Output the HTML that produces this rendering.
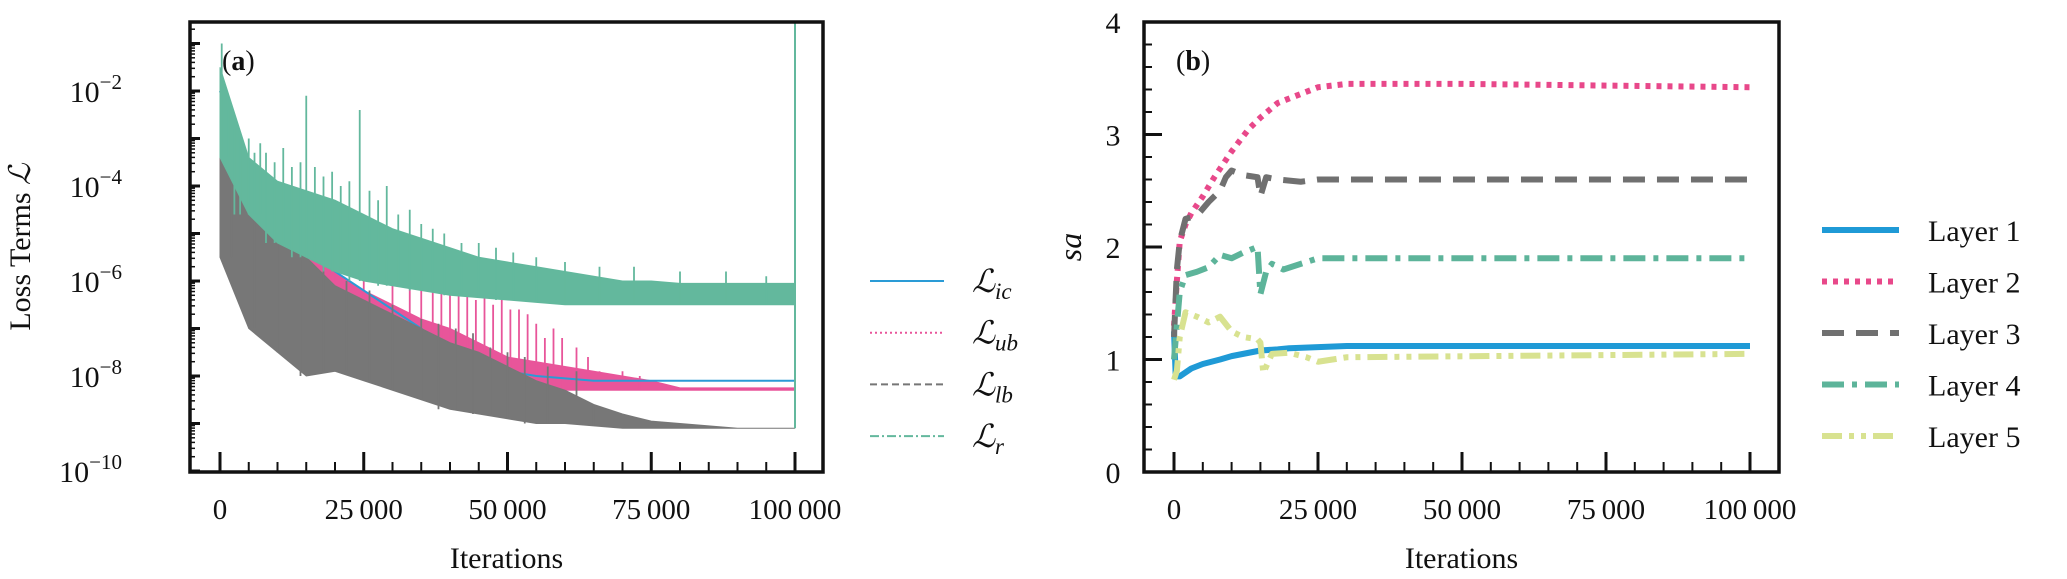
<!DOCTYPE html>
<html><head><meta charset="utf-8"><style>
body{margin:0;background:#fff}
svg{display:block}
text{font-family:"Liberation Serif",serif;fill:#111}
</style></head><body>
<svg id="fig" width="2067" height="579" viewBox="0 0 2067 579" xmlns="http://www.w3.org/2000/svg">
<g id="pa"></g>
<g id="pb"></g>
</svg>
<script>
// ---------- Panel (a) data (log10 of loss), bins every 5000 iterations ----------
const binsA = [0,5000,10000,15000,20000,25000,30000,35000,40000,45000,50000,55000,60000,65000,70000,75000,80000,85000,90000,95000,100000];
const rHi  = [-1.5,-3.4,-3.9,-4.1,-4.3,-4.6,-4.9,-5.1,-5.3,-5.5,-5.6,-5.7,-5.8,-5.9,-6.0,-6.0,-6.05,-6.05,-6.05,-6.05,-6.05];
const rLo  = [-3.4,-4.6,-5.2,-5.5,-5.8,-6.0,-6.1,-6.2,-6.3,-6.35,-6.4,-6.45,-6.5,-6.5,-6.5,-6.5,-6.5,-6.5,-6.5,-6.5,-6.5];
const lbHi = [-3.3,-4.4,-5.0,-5.5,-6.1,-6.4,-6.7,-7.0,-7.3,-7.5,-7.8,-8.1,-8.3,-8.6,-8.8,-8.95,-9.0,-9.05,-9.1,-9.1,-9.1];
const lbLo = [-5.5,-7.0,-7.5,-8.0,-7.9,-8.1,-8.3,-8.5,-8.7,-8.8,-8.9,-9.0,-9.0,-9.05,-9.1,-9.1,-9.1,-9.1,-9.1,-9.1,-9.1];
const ubHi = [-3.0,-4.2,-4.8,-5.3,-5.8,-6.2,-6.5,-6.8,-7.0,-7.3,-7.6,-7.7,-7.8,-7.9,-8.0,-8.1,-8.25,-8.25,-8.25,-8.25,-8.25];
const ubLo = [-4.5,-5.6,-6.2,-6.8,-7.2,-7.5,-7.8,-8.0,-8.2,-8.3,-8.3,-8.3,-8.3,-8.3,-8.3,-8.3,-8.3,-8.3,-8.3,-8.3,-8.3];
const icVal= [-2.0,-4.2,-4.8,-5.3,-5.8,-6.2,-6.6,-7.0,-7.5,-7.8,-7.9,-8.0,-8.05,-8.1,-8.1,-8.1,-8.1,-8.1,-8.1,-8.1,-8.1];
const rSpikeX = [300,1500,2500,3500,5000,6000,7000,8000,9500,11000,12500,14000,15000,16500,18000,19500,21000,22500,24300,26000,27500,29000,31000,33000,35000,37000,39000,42000,45000,48000,51000,55000,60000,66000,72000,80000,88000,95000];
const rSpikeY = [-1.0,-2.4,-2.8,-3.0,-3.0,-3.3,-3.1,-3.3,-3.5,-3.2,-3.6,-3.5,-2.1,-3.6,-3.8,-3.7,-4.0,-3.9,-2.4,-4.1,-4.3,-4.0,-4.6,-4.5,-4.8,-4.9,-5.0,-5.2,-5.2,-5.3,-5.4,-5.5,-5.6,-5.7,-5.7,-5.8,-5.8,-5.9];
const ubSpikeX = [1500,3000,6000,9000,12000,20000,25000,30000,33000,35000,37000,38500,40000,41500,43000,44500,46000,47500,49000,50500,52000,53500,55000,56500,58000,59500,62000,64000,66000,70000,73000];
const ubSpikeY = [-3.0,-3.5,-4.0,-3.8,-4.2,-5.0,-5.5,-5.4,-6.0,-5.9,-6.2,-6.0,-6.3,-6.1,-6.2,-6.4,-6.2,-6.5,-6.3,-6.6,-6.6,-6.7,-6.9,-7.2,-7.0,-7.2,-7.4,-7.6,-7.9,-7.9,-8.0];
const lbSpikeX = [2000,6000,10000,14000,18000,22000,26000,30000,35000,38000,41000,44000,47000,50000,53000,57000,62000,65000];
const lbSpikeY = [-3.8,-4.5,-4.7,-5.0,-5.6,-6.0,-6.2,-6.5,-6.8,-6.9,-7.0,-7.1,-7.4,-7.5,-7.6,-7.8,-7.9,-8.6];
const yTicksA = [-2,-4,-6,-8,-10];
const xTicks = [0,25000,50000,75000,100000];
const xTickLabels = ["0","25\u2009000","50\u2009000","75\u2009000","100\u2009000"];

// ---------- Panel (b) data ----------
const l1x=[0,300,1000,3000,5000,8000,10000,13000,15000,18000,20000,25000,30000,50000,100000];
const l1y=[1.25,0.85,0.85,0.92,0.96,1.0,1.03,1.06,1.08,1.09,1.1,1.11,1.12,1.12,1.12];
const l2x=[0,500,1000,2000,3000,5000,7000,10000,13000,15000,18000,20000,23000,25000,30000,50000,100000];
const l2y=[1.3,1.7,2.05,2.2,2.3,2.45,2.62,2.85,3.05,3.15,3.28,3.32,3.38,3.42,3.45,3.45,3.42];
const l3x=[0,500,1000,2000,4000,6000,8000,9000,10000,12000,14500,15000,16000,18000,22000,25000,100000];
const l3y=[1.2,1.8,2.05,2.25,2.28,2.4,2.5,2.62,2.68,2.64,2.62,2.45,2.62,2.6,2.58,2.6,2.6];
const l4x=[0,500,1000,2000,4000,6000,8000,10000,12000,14500,15000,16000,17000,19000,22000,25000,100000];
const l4y=[1.0,1.3,1.6,1.75,1.78,1.82,1.93,1.9,1.95,2.0,1.58,1.78,1.85,1.8,1.85,1.9,1.9];
const l5x=[0,500,1000,2000,4000,6000,8000,10000,12000,14500,15000,15500,17000,20000,23000,25000,30000,100000];
const l5y=[0.82,0.9,1.2,1.42,1.38,1.33,1.38,1.25,1.2,1.18,1.15,0.88,1.05,1.06,1.02,0.98,1.02,1.05];
const yTicksB=[0,1,2,3,4];
const layerNames=["Layer 1","Layer 2","Layer 3","Layer 4","Layer 5"];

const NS="http://www.w3.org/2000/svg";
function mk(parent,tag,attrs,txt){const e=document.createElementNS(NS,tag);for(const k in attrs)e.setAttribute(k,attrs[k]);if(txt!==undefined)e.textContent=txt;parent.appendChild(e);return e;}

// ====== Panel A ======
const A={l:190,r:823,t:22,b:472,x0:220,x1:795};
const xA=v=>A.x0+(A.x1-A.x0)*v/100000;
const yA=lv=>471-(lv+10)*47.5;
const pa=document.getElementById('pa');
const clipA=mk(pa,'clipPath',{id:'ca'});mk(clipA,'rect',{x:A.l,y:A.t,width:A.r-A.l,height:A.b-A.t});
const ga=mk(pa,'g',{'clip-path':'url(#ca)'});

function band(g,xs,hi,lo,col,name){
  let d='M'+xs.map((x,i)=>xA(x)+','+yA(hi[i])).join('L');
  for(let i=xs.length-1;i>=0;i--)d+='L'+xA(xs[i])+','+yA(lo[i]);
  const p=mk(g,'path',{d:d+'Z',fill:col,stroke:col,'stroke-width':1});
  
  
}
function spikes(g,xs,ys,base,col,name){
  xs.forEach((x,i)=>{
    let bi=Math.min(binsA.length-1,Math.round(x/5000));
    const l=mk(g,'line',{x1:xA(x),x2:xA(x),y1:yA(base[bi]),y2:yA(ys[i]),stroke:col,'stroke-width':1.8});
    
    
  });
}
band(ga,binsA,ubHi,ubLo,'#e8559a','loss-ub-band');
spikes(ga,ubSpikeX,ubSpikeY,ubLo,'#e8559a','loss-ub-spike');
const icL=mk(ga,'path',{d:'M'+binsA.map((x,i)=>xA(x)+','+yA(icVal[i])).join('L'),fill:'none',stroke:'#2a9bd6','stroke-width':2});


band(ga,binsA,lbHi,lbLo,'#777777','loss-lb-band');
spikes(ga,lbSpikeX,lbSpikeY,lbLo,'#777777','loss-lb-spike');
band(ga,binsA,rHi,rLo,'#63b89d','loss-r-band');
spikes(ga,rSpikeX,rSpikeY,rLo,'#63b89d','loss-r-spike');
const tail=mk(ga,'line',{x1:xA(100000),x2:xA(100000),y1:A.t,y2:yA(-9.1),stroke:'#63b89d','stroke-width':2});



function frame(g,P,name){
  const f=mk(g,'rect',{x:P.l,y:P.t,width:P.r-P.l,height:P.b-P.t,fill:'none',stroke:'#111','stroke-width':3.5});
  
  
}
frame(pa,A,'plot-frame-a');
function xTicksDraw(g,P,xf){
  for(let v=0;v<=100000;v+=5000){const maj=v%25000===0;
    mk(g,'line',{x1:xf(v),x2:xf(v),y1:P.b,y2:P.b-(maj?20:10),stroke:'#111','stroke-width':maj?3:2});}
  xTicks.forEach((v,i)=>{const t=mk(g,'text',{x:xf(v),y:519,'font-size':29,'text-anchor':'middle'},xTickLabels[i]);
    
    });
  const xt=mk(g,'text',{x:(P.l+P.r)/2,y:568,'font-size':30,'text-anchor':'middle'},'Iterations');
  
  
}
xTicksDraw(pa,A,xA);
for(let d=-10;d<=-1;d++){
  mk(pa,'line',{x1:A.l,x2:A.l+10,y1:yA(d),y2:yA(d),stroke:'#111','stroke-width':3});
  for(let m=2;m<10;m++){const y=yA(d+Math.log10(m));if(y>A.t)mk(pa,'line',{x1:A.l,x2:A.l+5,y1:y,y2:y,stroke:'#111','stroke-width':1.5});}
}
yTicksA.forEach(d=>{const t=mk(pa,'text',{x:d===-10?122:122,y:yA(d)+11,'font-size':30,'text-anchor':'end'});
  
  
  t.textContent='10';
  mk(t,'tspan',{dy:-13,'font-size':21},'\u2212'+(-d));
});
const yta=mk(pa,'text',{transform:'translate(30,247) rotate(-90)','font-size':30,'text-anchor':'middle'});


yta.textContent='Loss Terms ';
mk(yta,'tspan',{'font-style':'italic'},'\u2112');
const la=mk(pa,'text',{x:222,y:70,'font-size':28},'(');


mk(la,'tspan',{'font-weight':'bold'},'a');la.appendChild(document.createTextNode(')'));
const legA=[['ic','#2a9bd6',''],['ub','#e8559a','2,3'],['lb','#767676','7,4'],['r','#63b89d','9,3,2,3']];
legA.forEach((L,i)=>{const y=281+i*51.7;
  const g=mk(pa,'g',{});
  
  
  const a={x1:870,x2:944,y1:y,y2:y,stroke:L[1],'stroke-width':2};if(L[2])a['stroke-dasharray']=L[2];mk(g,'line',a);
  const t=mk(g,'text',{x:972,y:y+11,'font-size':32,'font-style':'italic'},'\u2112');
  mk(t,'tspan',{dy:7,'font-size':23},L[0]);
});

// ====== Panel B ======
const B={l:1144,r:1779,t:22,b:472,x0:1174,x1:1750};
const xB=v=>B.x0+(B.x1-B.x0)*v/100000;
const yB=v=>B.b-(B.b-B.t)*v/4;
const pb=document.getElementById('pb');
const series=[[l1x,l1y,'#1f9ad6',''],[l2x,l2y,'#e8488a','5,6'],[l3x,l3y,'#707070','22,12'],[l4x,l4y,'#5db49a','22,8,5,8'],[l5x,l5y,'#d8e290','20,7,5,7,5,7']];
series.forEach((S,i)=>{
  const a={d:'M'+S[0].map((x,j)=>xB(x)+','+yB(S[1][j])).join('L'),fill:'none',stroke:S[2],'stroke-width':6,'stroke-linejoin':'round'};
  if(S[3])a['stroke-dasharray']=S[3];
  const p=mk(pb,'path',a);
  
  
});
frame(pb,B,'plot-frame-b');
xTicksDraw(pb,B,xB);
for(let v=0;v<=4.001;v+=0.2){const maj=Math.abs(v-Math.round(v))<1e-6;
  mk(pb,'line',{x1:B.l,x2:B.l+(maj?18:8),y1:yB(v),y2:yB(v),stroke:'#111','stroke-width':maj?3:2});}
yTicksB.forEach(v=>{const t=mk(pb,'text',{x:1113,y:yB(v)+11,'font-size':30,'text-anchor':'middle'},String(v));
  
  });
const ytb=mk(pb,'text',{transform:'translate(1081,247) rotate(-90)','font-size':32,'font-style':'italic','text-anchor':'middle'},'sa');


const lb=mk(pb,'text',{x:1176,y:70,'font-size':28},'(');


mk(lb,'tspan',{'font-weight':'bold'},'b');lb.appendChild(document.createTextNode(')'));
series.forEach((S,i)=>{const y=230+i*51.5;
  const g=mk(pb,'g',{});
  
  
  const a={x1:1822,x2:1899,y1:y,y2:y,stroke:S[2],'stroke-width':6};if(S[3])a['stroke-dasharray']=S[3];mk(g,'line',a);
  mk(g,'text',{x:1928,y:y+11,'font-size':30},layerNames[i]);
});
</script>
</body></html>
